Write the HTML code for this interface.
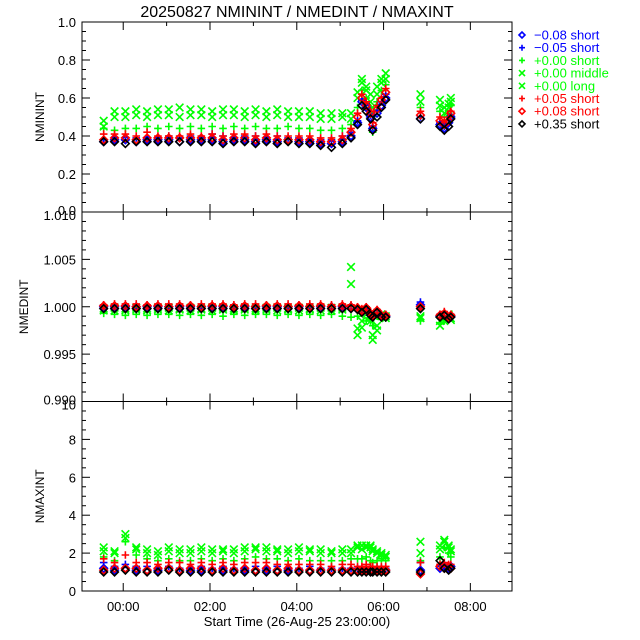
<!DOCTYPE html>
<html><head><meta charset="utf-8"><style>
html,body{margin:0;padding:0;background:#fff}
svg{display:block;font-family:"Liberation Sans",sans-serif}
</style></head><body>
<svg id="c" width="640" height="640" viewBox="0 0 640 640"></svg>
<script>
// ---- data ----
const times = [-0.45,-0.2,0.05,0.3,0.55,0.8,1.05,1.3,1.55,1.8,2.05,2.3,2.55,2.8,3.05,3.3,3.55,3.8,4.05,4.3,4.55,4.8,5.05,5.25,5.4,5.5,5.6,5.7,5.75,5.85,5.95,6.05,6.85,7.3,7.4,7.5,7.55];
const seriesLabels = ["\u22120.08 short","\u22120.05 short","+0.00 short","+0.00 middle","+0.00 long","+0.05 short","+0.08 short","+0.35 short"];
const seriesColors = ["#0000ff","#0000ff","#00ff00","#00ff00","#00ff00","#ff0000","#ff0000","#000000"];
const seriesSymbols = ["diamond","plus","plus","x","x","plus","diamond","diamond"];
// NMININT
const minS0 = [0.37,0.38,0.38,0.37,0.38,0.38,0.38,0.37,0.38,0.38,0.38,0.37,0.38,0.38,0.37,0.38,0.37,0.38,0.37,0.37,0.36,0.36,0.37,0.40,0.47,0.58,0.55,0.50,0.44,0.52,0.56,0.60,0.49,0.46,0.44,0.47,0.50];
const minS1 = [0.38,0.39,0.38,0.39,0.38,0.39,0.40,0.39,0.40,0.39,0.41,0.40,0.39,0.40,0.40,0.39,0.40,0.39,0.39,0.38,0.38,0.38,0.40,0.42,0.48,0.59,0.57,0.51,0.45,0.53,0.58,0.62,0.50,0.47,0.45,0.48,0.51];
const minS2 = [0.44,0.43,0.44,0.44,0.45,0.44,0.45,0.44,0.45,0.44,0.45,0.44,0.45,0.44,0.45,0.44,0.44,0.45,0.44,0.44,0.43,0.43,0.44,0.46,0.55,0.64,0.60,0.55,0.42,0.58,0.64,0.67,0.55,0.53,0.50,0.52,0.56];
const minS3 = [0.48,0.50,0.50,0.51,0.50,0.51,0.51,0.50,0.51,0.51,0.50,0.51,0.51,0.50,0.51,0.50,0.51,0.50,0.50,0.50,0.49,0.49,0.50,0.49,0.60,0.68,0.64,0.58,0.52,0.62,0.68,0.70,0.58,0.56,0.52,0.55,0.58];
const minS4 = [0.45,0.53,0.53,0.54,0.53,0.54,0.54,0.55,0.54,0.54,0.53,0.54,0.54,0.53,0.54,0.53,0.54,0.53,0.53,0.53,0.52,0.52,0.52,0.52,0.63,0.70,0.66,0.62,0.55,0.66,0.70,0.73,0.62,0.59,0.55,0.57,0.60];
const minS5 = [0.41,0.41,0.41,0.40,0.42,0.40,0.40,0.40,0.41,0.40,0.41,0.40,0.41,0.41,0.40,0.41,0.40,0.40,0.40,0.40,0.39,0.39,0.40,0.44,0.52,0.62,0.58,0.53,0.47,0.56,0.60,0.65,0.53,0.50,0.48,0.50,0.53];
const minS6 = [0.38,0.39,0.39,0.38,0.39,0.39,0.39,0.39,0.39,0.39,0.39,0.38,0.39,0.39,0.38,0.39,0.38,0.38,0.38,0.38,0.37,0.37,0.38,0.42,0.50,0.60,0.56,0.52,0.46,0.54,0.59,0.63,0.51,0.48,0.46,0.48,0.52];
const minS7 = [0.37,0.37,0.36,0.37,0.37,0.37,0.37,0.37,0.37,0.37,0.37,0.36,0.37,0.37,0.36,0.37,0.36,0.37,0.36,0.36,0.35,0.34,0.36,0.39,0.46,0.56,0.53,0.49,0.43,0.50,0.55,0.59,0.49,0.45,0.43,0.45,0.49];
// NMEDINT
const medS0 = [1.0000,1.0000,1.0000,1.0000,1.0000,1.0000,1.0000,1.0000,1.0000,1.0000,1.0000,1.0000,1.0000,1.0000,1.0000,1.0000,1.0000,1.0000,1.0000,1.0000,1.0000,1.0000,1.0000,1.0000,0.9998,0.9995,0.9998,0.9992,0.9990,0.9995,0.9990,0.9990,1.0002,0.9990,0.9992,0.9988,0.9990];
const medS1 = [1.0002,1.0001,1.0001,1.0001,1.0000,1.0001,1.0001,1.0000,1.0001,1.0000,1.0001,1.0001,1.0000,1.0001,1.0000,1.0001,1.0001,1.0000,1.0001,1.0000,1.0001,1.0001,1.0000,1.0001,0.9998,0.9996,0.9998,0.9993,0.9990,0.9996,0.9990,0.9991,1.0005,0.9992,0.9993,0.9989,0.9991];
const medS2 = [0.9993,0.9992,0.9991,0.9992,0.9991,0.9992,0.9992,0.9991,0.9992,0.9991,0.9992,0.9990,0.9992,0.9991,0.9992,0.9992,0.9991,0.9992,0.9991,0.9992,0.9991,0.9992,0.9990,0.9989,0.9990,0.9995,0.9985,0.9985,0.9980,0.9990,0.9988,0.9988,0.9985,0.9983,0.9985,0.9988,0.9990];
const medS3 = [0.9996,0.9996,0.9996,0.9997,0.9996,0.9997,0.9996,0.9997,0.9996,0.9997,0.9996,0.9997,0.9996,0.9997,0.9996,0.9997,0.9996,0.9997,0.9996,0.9997,0.9996,0.9996,0.9997,1.0042,0.9970,0.9978,0.9995,0.9990,0.9965,0.9975,0.9990,0.9988,0.9988,0.9980,0.9985,0.9990,0.9986];
const medS4 = [0.9998,0.9999,0.9998,0.9999,0.9998,0.9999,0.9999,0.9998,0.9999,0.9998,0.9999,0.9999,0.9998,0.9999,0.9998,0.9999,0.9999,0.9998,0.9999,0.9998,0.9999,0.9999,0.9999,1.0024,0.9977,0.9985,0.9992,0.9985,0.9970,0.9980,0.9992,0.9990,0.9990,0.9985,0.9988,0.9992,0.9988];
const medS5 = [1.0002,1.0003,1.0003,1.0003,1.0002,1.0003,1.0003,1.0003,1.0002,1.0003,1.0003,1.0003,1.0002,1.0003,1.0003,1.0002,1.0003,1.0003,1.0002,1.0003,1.0003,1.0002,1.0003,1.0002,1.0000,0.9998,1.0000,0.9995,0.9992,0.9997,0.9992,0.9992,1.0000,0.9992,0.9995,0.9990,0.9992];
const medS6 = [1.0001,1.0001,1.0001,1.0000,1.0001,1.0001,1.0000,1.0001,1.0001,1.0000,1.0001,1.0001,1.0000,1.0001,1.0000,1.0001,1.0001,1.0000,1.0001,1.0000,1.0001,1.0000,1.0001,1.0000,0.9999,0.9996,0.9999,0.9993,0.9991,0.9996,0.9991,0.9991,1.0000,0.9991,0.9993,0.9989,0.9991];
const medS7 = [0.9998,0.9998,0.9998,0.9998,0.9998,0.9998,0.9998,0.9998,0.9998,0.9998,0.9998,0.9998,0.9998,0.9998,0.9998,0.9998,0.9998,0.9998,0.9998,0.9998,0.9998,0.9998,0.9998,0.9998,0.9997,0.9994,0.9997,0.9991,0.9989,0.9994,0.9989,0.9989,0.9998,0.9989,0.9991,0.9987,0.9989];
// NMAXINT
const maxS0 = [1.2,1.1,1.2,1.1,1.1,1.1,1.2,1.1,1.1,1.1,1.1,1.1,1.1,1.1,1.1,1.1,1.1,1.1,1.1,1.1,1.1,1.1,1.1,1.1,1.1,1.1,1.1,1.1,1.1,1.1,1.1,1.1,1.1,1.2,1.3,1.2,1.3];
const maxS1 = [1.5,1.3,1.4,1.3,1.3,1.2,1.3,1.2,1.2,1.3,1.2,1.3,1.2,1.2,1.3,1.2,1.3,1.2,1.2,1.3,1.2,1.2,1.2,1.2,1.2,1.2,1.2,1.2,1.2,1.2,1.2,1.2,1.5,1.3,1.4,1.3,1.3];
const maxS2 = [1.8,1.6,2.6,1.9,1.7,1.6,1.7,1.6,1.6,1.7,1.6,1.7,1.6,1.7,1.8,1.7,1.7,1.6,1.7,1.6,1.6,1.6,1.6,1.7,1.7,1.7,1.8,1.6,1.5,1.6,1.7,1.6,1.6,1.8,2.3,2.0,1.8];
const maxS3 = [2.1,2.0,3.0,2.2,2.0,1.9,2.1,2.0,2.0,2.1,2.0,2.1,2.0,2.1,2.2,2.1,2.1,2.0,2.1,2.1,2.0,2.0,2.0,2.0,2.4,2.2,2.4,2.3,2.2,2.0,1.9,1.8,2.6,2.2,2.7,2.4,2.2];
const maxS4 = [2.3,2.1,2.8,2.3,2.2,2.1,2.3,2.2,2.2,2.3,2.2,2.2,2.2,2.3,2.3,2.3,2.2,2.2,2.3,2.2,2.2,2.1,2.2,2.2,2.3,2.4,2.3,2.4,2.1,2.1,2.0,1.9,2.0,2.4,2.6,2.3,2.1];
const maxS5 = [1.7,1.5,1.9,1.5,1.5,1.4,1.5,1.5,1.4,1.5,1.4,1.5,1.4,1.5,1.5,1.5,1.4,1.4,1.4,1.4,1.4,1.3,1.4,1.4,1.3,1.3,1.4,1.3,1.3,1.3,1.3,1.3,1.5,1.4,1.5,1.4,1.4];
const maxS6 = [1.1,1.2,1.2,1.2,1.1,1.2,1.2,1.1,1.2,1.2,1.1,1.2,1.1,1.2,1.1,1.2,1.1,1.2,1.1,1.1,1.1,1.1,1.1,1.1,1.1,1.1,1.1,1.1,1.1,1.1,1.1,1.1,0.9,1.3,1.2,1.3,1.2];
const maxS7 = [1.0,1.0,1.1,1.0,1.0,1.0,1.1,1.0,1.0,1.0,1.0,1.0,1.0,1.0,1.0,1.0,1.0,1.0,1.0,1.0,1.0,1.0,1.0,1.0,1.0,1.0,1.0,1.0,1.0,1.0,1.0,1.0,1.0,1.6,1.2,1.1,1.2];
const xTickLabels = ["00:00","02:00","04:00","06:00","08:00"];
const xTickValues = [0,2,4,6,8];
const topTicks = ["0.0","0.2","0.4","0.6","0.8","1.0"];
const midTicks = ["0.990","0.995","1.000","1.005","1.010"];
const botTicks = ["0","2","4","6","8","10"];

// ---- layout ----
const svg = document.getElementById('c');
const NS = 'http://www.w3.org/2000/svg';
const L = 82, R = 512, X0 = -0.95, X1 = 8.96;
const xs = t => L + (t - X0) / (X1 - X0) * (R - L);
function mk(tag, attrs, parent){ const e = document.createElementNS(NS, tag); for (const k in attrs) e.setAttribute(k, attrs[k]); (parent||svg).appendChild(e); return e; }
function marker(g, sym, x, y, col, s){
  s = s || 3.8;
  let d;
  if (sym==='diamond') d=`M${x-s} ${y}L${x} ${y-s}L${x+s} ${y}L${x} ${y+s}Z`;
  else if (sym==='plus') d=`M${x-s} ${y}H${x+s}M${x} ${y-s}V${y+s}`;
  else d=`M${x-s} ${y-s}L${x+s} ${y+s}M${x-s} ${y+s}L${x+s} ${y-s}`;
  const p = mk('path',{d:d,stroke:col,'stroke-width':1.6,fill:'none'},g);
  
  
}
const panels = [
  {name:'nminint', title:'NMININT', top:22, bot:212, y0:0, y1:1, ticks:topTicks, major:0.2, minor:0.05, series:[minS0,minS1,minS2,minS3,minS4,minS5,minS6,minS7]},
  {name:'nmedint', title:'NMEDINT', top:212, bot:401.5, y0:0.99, y1:1.01, ticks:midTicks, major:0.005, minor:0.001, series:[medS0,medS1,medS2,medS3,medS4,medS5,medS6,medS7]},
  {name:'nmaxint', title:'NMAXINT', top:401.5, bot:591, y0:0, y1:10, ticks:botTicks, major:2, minor:0.5, series:[maxS0,maxS1,maxS2,maxS3,maxS4,maxS5,maxS6,maxS7]}
];
const drawOrder = [3,4,2,0,1,5,6,7];
panels.forEach((p, pi) => {
  const g = mk('g',{});
  
  
  const ys = v => p.bot - (v - p.y0) / (p.y1 - p.y0) * (p.bot - p.top);
  drawOrder.forEach(si => {
    const sg = mk('g',{},g);
    
    
    p.series[si].forEach((v,i) => {
      if (v < p.y0 || v > p.y1) return;
      marker(sg, seriesSymbols[si], xs(times[i]), ys(v), seriesColors[si]);
    });
  });
  const fr = mk('rect',{x:L,y:p.top,width:R-L,height:p.bot-p.top,fill:'none',stroke:'#000','stroke-width':1},g);
  
  
  const nMinor = Math.round((p.y1-p.y0)/p.minor);
  const per = Math.round(p.major/p.minor);
  for (let k=0;k<=nMinor;k++){
    const y = ys(p.y0 + k*p.minor);
    const len = (k%per===0)?8:4;
    mk('line',{x1:L,x2:L+len,y1:y,y2:y,stroke:'#000'},g);
    mk('line',{x1:R,x2:R-len,y1:y,y2:y,stroke:'#000'},g);
  }
  p.ticks.forEach((t,k) => {
    let y = ys(p.y0+k*p.major)+5;
    if (pi>0 && k===p.ticks.length-1) y += 3;
    if (pi<2 && k===0) y -= 2;
    const tx = mk('text',{x:76,y:y,'text-anchor':'end','font-size':13,fill:'#000'},g);
    tx.textContent = t;
    
    
  });
  for (let h=0; h<=8; h++){
    const x = xs(h); const len = (h%2===0)?8:4;
    mk('line',{x1:x,x2:x,y1:p.bot,y2:p.bot-len,stroke:'#000'},g);
    mk('line',{x1:x,x2:x,y1:p.top,y2:p.top+len,stroke:'#000'},g);
  }
  const yt = mk('text',{x:0,y:0,transform:`translate(${pi===1?28:44},${(p.top+p.bot)/2}) rotate(-90)`,'text-anchor':'middle','font-size':12,fill:'#000'},g);
  yt.textContent = p.title;
  
  
});
xTickLabels.forEach((t,i) => {
  const tx = mk('text',{x:xs(xTickValues[i]),y:611,'text-anchor':'middle','font-size':13,fill:'#000'});
  tx.textContent = t;
  
  
});
const xt = mk('text',{x:297,y:626,'text-anchor':'middle','font-size':13,fill:'#000'});
xt.textContent = 'Start Time (26-Aug-25 23:00:00)';


const ti = mk('text',{x:297,y:17,'text-anchor':'middle','font-size':16,fill:'#000'});
ti.textContent = '20250827 NMININT / NMEDINT / NMAXINT';


seriesLabels.forEach((lab,i) => {
  const y = 35 + i*12.7;
  const lg = mk('g',{});
  
  
  marker(lg, seriesSymbols[i], 522, y, seriesColors[i], 3);
  const tx = mk('text',{x:534,y:y+4.5,'font-size':13,fill:seriesColors[i]},lg);
  tx.textContent = lab;
});
</script>
</body></html>
